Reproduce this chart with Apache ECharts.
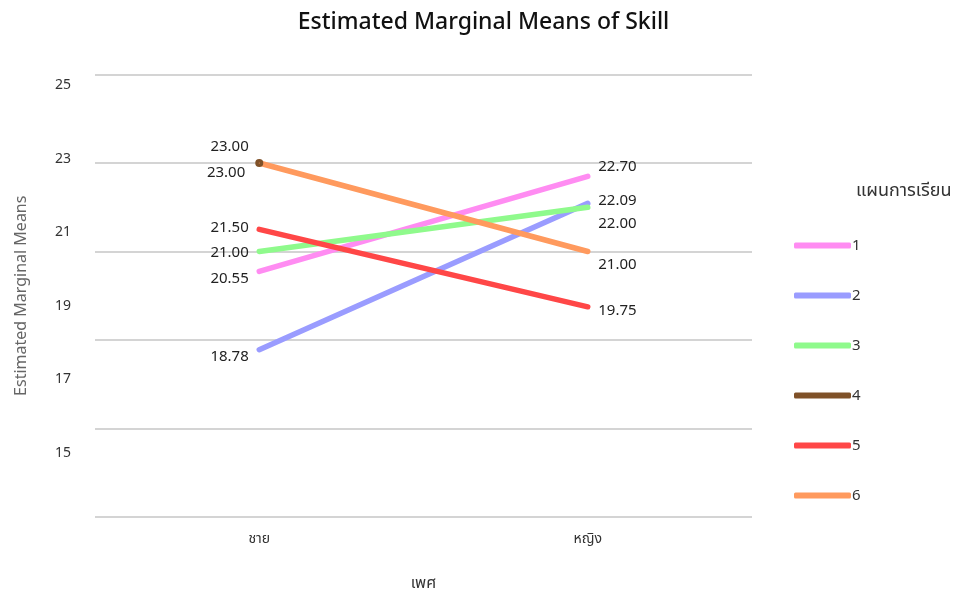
<!DOCTYPE html>
<html>
<head>
<meta charset="utf-8">
<script src="https://cdn.jsdelivr.net/npm/echarts@6/dist/echarts.min.js"></script>
<style>
  html, body { margin: 0; padding: 0; background: #fff; }
  #chart { width: 967px; height: 596px; }
</style>
</head>
<body>
<div id="chart"></div>
<script>
// ข้อมูล
const genders = ['ชาย', 'หญิง'];
const planNames = ['1', '2', '3', '4', '5', '6'];
const plan1 = [20.55, 22.70];
const plan2 = [18.78, 22.09];
const plan3 = [21.00, 22.00];
const plan4 = [23.00, null];
const plan5 = [21.50, 19.75];
const plan6 = [23.00, 21.00];
const yTicks = [15, 17, 19, 21, 23, 25];

const colors = ['#ff8cf2', '#9a9cff', '#8ffa8c', '#7f5128', '#ff4747', '#ff9a5e'];
// ระยะเลื่อนป้ายตัวเลข (ซ้าย, ขวา)
const labelShift = [[7, -10], [7, -3], [1, 16], [10, 0], [-2, 4], [-16, 13]];

const chart = echarts.init(document.getElementById('chart'));
const font = "'Noto Sans', 'Noto Sans Thai', Tahoma, sans-serif";
const allPlans = [plan1, plan2, plan3, plan4, plan5, plan6];

const series = allPlans.map((vals, i) => ({
  name: planNames[i],
  type: 'line',
  yAxisIndex: 0,
  symbol: 'circle',
  symbolSize: i === 3 ? 8 : 1,
  showSymbol: true,
  lineStyle: { width: 5.5, color: colors[i], cap: 'round' },
  itemStyle: { color: colors[i] },
  data: vals.map((v, j) => ({
    value: v,
    label: {
      show: v !== null,
      position: j === 0 ? 'left' : 'right',
      distance: 10,
      offset: [0, labelShift[i][j]],
      formatter: p => p.value.toFixed(2),
      color: '#222',
      fontSize: 15,
      fontFamily: font
    }
  }))
}));

chart.setOption({
  animation: false,
  color: colors,
  title: [
    {
      text: 'Estimated Marginal Means of Skill',
      left: 'center',
      top: 6,
      textStyle: { fontSize: 23, fontWeight: 500, color: '#111', fontFamily: font }
    },
    {
      text: 'แผนการเรียน',
      left: 851,
      top: 177,
      textStyle: { fontSize: 18, fontWeight: 'normal', color: '#333', fontFamily: font }
    }
  ],
  legend: {
    orient: 'vertical',
    left: 789,
    top: 233,
    icon: 'roundRect',
    itemWidth: 57,
    itemHeight: 6,
    itemGap: 35,
    data: planNames,
    textStyle: { fontSize: 15, color: '#333', fontFamily: font, padding: [0, 0, 0, -4] }
  },
  grid: { left: 95, right: 215, top: 74.5, bottom: 79 },
  xAxis: {
    type: 'category',
    data: genders,
    name: 'เพศ',
    nameLocation: 'middle',
    nameGap: 58,
    nameTextStyle: { fontSize: 16, color: '#333', fontFamily: font },
    axisLine: { show: false },
    axisTick: { show: false },
    axisLabel: { margin: 15, fontSize: 14, color: '#333', fontFamily: font }
  },
  yAxis: [
    {
      type: 'value',
      min: 15,
      max: 25,
      interval: 2,
      name: 'Estimated Marginal Means',
      nameLocation: 'middle',
      nameGap: 66,
      nameTextStyle: { fontSize: 16, color: '#666', fontFamily: font },
      axisLine: { show: false },
      axisTick: { show: false },
      axisLabel: { show: false },
      splitLine: { lineStyle: { color: '#d4d4d4', width: 2 } }
    },
    {
      type: 'value',
      position: 'left',
      min: 13.26,
      max: 25.285,
      axisLine: { show: false },
      axisTick: { show: false },
      splitLine: { show: false },
      axisLabel: {
        customValues: yTicks,
        margin: 24,
        fontSize: 14,
        color: '#333',
        fontFamily: font
      }
    }
  ],
  series: series
});
</script>
</body>
</html>
